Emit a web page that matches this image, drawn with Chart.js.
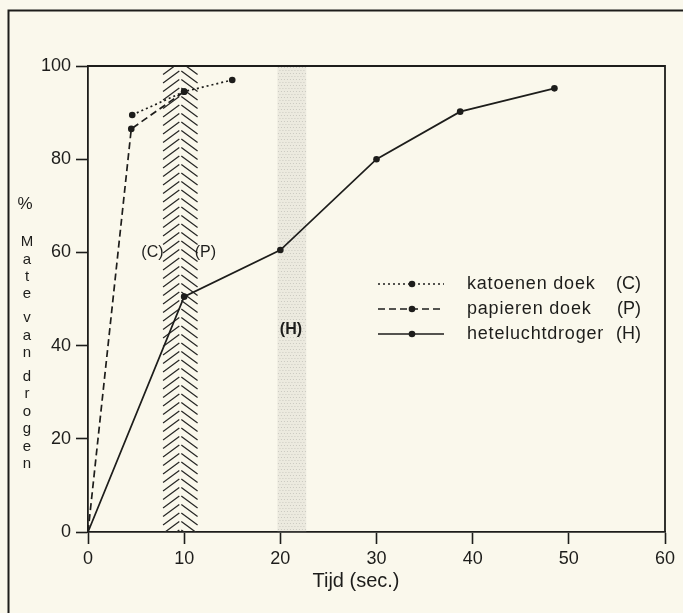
<!DOCTYPE html>
<html>
<head>
<meta charset="utf-8">
<script src="https://cdn.jsdelivr.net/npm/chart.js@4.4.1/dist/chart.umd.min.js"></script>
<style>
  html, body { margin: 0; padding: 0; background: #faf8ec; }
  canvas { display: block; }
</style>
</head>
<body>
<canvas id="chart" width="683" height="613"></canvas>
<script>
// values (x = seconds, y = %)
const cTime = [4.6, 10, 15];
const cDry = [89.5, 94.5, 97];
const pTime = [0, 4.5, 10];
const pDry = [0, 86.5, 94.5];
const hTime = [0, 10, 20, 30, 38.7, 48.5];
const hDry = [0, 50.5, 60.5, 80, 90.2, 95.2];

const seriesNames = ['katoenen doek', 'papieren doek', 'heteluchtdroger'];
const seriesTags = ['(C)', '(P)', '(H)'];

const xTicks = [0, 10, 20, 30, 40, 50, 60];
const yTicks = [0, 20, 40, 60, 80, 100];

// shaded time windows
const hatchBand = [7.7, 11.5];
const stippleBand = [19.7, 22.7];
// band labels: [text, x, y]
const bandLabels = [['(C)', 6.7, 60], ['(P)', 12.2, 60], ['(H)', 21.1, 43.5]];

const yTitleWords = ['Mate', 'van', 'drogen'];

const INK = '#1d1d1b';
const FONT = '"Liberation Sans", Arial, sans-serif';

function pts(xs, ys) {
  return xs.map(function (x, i) { return { x: x, y: ys[i] }; });
}

const extras = {
  id: 'extras',
  beforeDatasetsDraw: function (chart) {
    const ctx = chart.ctx, a = chart.chartArea;
    const xs = chart.scales.x;
    ctx.save();

    // stippled grey band
    const s1 = xs.getPixelForValue(stippleBand[0]), s2 = xs.getPixelForValue(stippleBand[1]);
    ctx.fillStyle = 'rgba(170,170,165,0.18)';
    ctx.fillRect(s1, a.top, s2 - s1, a.bottom - a.top);
    ctx.fillStyle = 'rgba(140,140,135,0.35)';
    for (let y = a.top + 1; y < a.bottom; y += 3) {
      for (let x = s1 + ((y / 3) % 2) * 1.5; x < s2; x += 3) {
        ctx.fillRect(x, y, 1, 1);
      }
    }

    // chevron hatch band
    const h1 = xs.getPixelForValue(hatchBand[0]), h2 = xs.getPixelForValue(hatchBand[1]);
    const hm = (h1 + h2) / 2;
    ctx.beginPath();
    ctx.rect(h1, a.top, h2 - h1, a.bottom - a.top);
    ctx.clip();
    ctx.strokeStyle = '#2a2a28';
    ctx.lineWidth = 1.3;
    for (let y = a.top - 12; y < a.bottom + 2; y += 8.5) {
      ctx.beginPath();
      ctx.moveTo(h1 + 1, y + 12);
      ctx.lineTo(hm - 1, y);
      ctx.moveTo(hm + 1, y);
      ctx.lineTo(h2 - 1, y + 12);
      ctx.stroke();
    }
    ctx.restore();
  },
  afterDraw: function (chart) {
    const ctx = chart.ctx, a = chart.chartArea;
    const xs = chart.scales.x, ys = chart.scales.y;
    ctx.save();
    ctx.strokeStyle = INK;
    ctx.fillStyle = INK;

    // outer frame
    ctx.lineWidth = 2;
    ctx.beginPath();
    ctx.moveTo(8.5, 700);
    ctx.lineTo(8.5, 10.5);
    ctx.lineTo(700, 10.5);
    ctx.stroke();

    // plot box top and right
    ctx.lineWidth = 1.8;
    ctx.beginPath();
    ctx.moveTo(a.left, a.top);
    ctx.lineTo(a.right, a.top);
    ctx.lineTo(a.right, a.bottom);
    ctx.stroke();

    // band labels
    ctx.textAlign = 'center';
    ctx.textBaseline = 'middle';
    bandLabels.forEach(function (b) {
      ctx.font = (b[0] === '(H)' ? 'bold ' : '') + '16px ' + FONT;
      ctx.fillText(b[0], xs.getPixelForValue(b[1]), ys.getPixelForValue(b[2]));
    });

    // y title, stacked letters
    ctx.font = '17px ' + FONT;
    ctx.fillText('%', 25, 204);
    ctx.font = '15px ' + FONT;
    let ly = 242;
    yTitleWords.forEach(function (w) {
      for (let i = 0; i < w.length; i++) {
        ctx.fillText(w[i], 27, ly);
        ly += 17.4;
      }
      ly += 6.5;
    });

    // x title
    ctx.font = '20px ' + FONT;
    ctx.fillText('Tijd (sec.)', 356, 581);

    // legend
    chart.data.datasets.forEach(function (ds, i) {
      const y = 284 + 25 * i;
      ctx.lineWidth = ds.borderWidth;
      ctx.setLineDash(ds.borderDash || []);
      ctx.beginPath();
      ctx.moveTo(378, y);
      ctx.lineTo(444, y);
      ctx.stroke();
      ctx.setLineDash([]);
      ctx.beginPath();
      ctx.arc(412, y, 3.3, 0, Math.PI * 2);
      ctx.fill();
      ctx.font = '18px ' + FONT;
      ctx.letterSpacing = '0.8px';
      ctx.textAlign = 'left';
      ctx.fillText(ds.label, 467, y);
      ctx.letterSpacing = '0px';
      ctx.textAlign = 'right';
      ctx.fillText(seriesTags[i], 641, y);
    });
    ctx.restore();
  }
};

const commonLine = {
  borderColor: INK,
  backgroundColor: INK,
  pointBackgroundColor: INK,
  pointBorderWidth: 0,
  borderWidth: 1.7,
  tension: 0,
  fill: false
};

new Chart(document.getElementById('chart'), {
  type: 'line',
  data: {
    datasets: [
      Object.assign({}, commonLine, {
        label: seriesNames[0],
        data: pts(cTime, cDry),
        borderDash: [2, 3],
        pointRadius: 3.3
      }),
      Object.assign({}, commonLine, {
        label: seriesNames[1],
        data: pts(pTime, pDry),
        borderDash: [7, 4],
        pointRadius: [0, 3.3, 3.3]
      }),
      Object.assign({}, commonLine, {
        label: seriesNames[2],
        data: pts(hTime, hDry),
        pointRadius: [0, 3.3, 3.3, 3.3, 3.3, 3.3]
      })
    ]
  },
  options: {
    responsive: false,
    animation: false,
    devicePixelRatio: 1,
    layout: { padding: { top: 66, right: 18, left: 0, bottom: 0 } },
    plugins: { legend: { display: false }, tooltip: { enabled: false } },
    scales: {
      x: {
        type: 'linear',
        min: 0,
        max: 60,
        afterFit: function (s) { s.height = 81; },
        afterBuildTicks: function (s) { s.ticks = xTicks.map(function (v) { return { value: v }; }); },
        grid: { drawOnChartArea: false, drawTicks: true, tickLength: 12, tickColor: INK, tickWidth: 1.6 },
        border: { display: true, color: INK, width: 1.8 },
        ticks: { color: INK, padding: 4, maxRotation: 0, font: { family: FONT, size: 18 } }
      },
      y: {
        min: 0,
        max: 100,
        afterFit: function (s) { s.width = 88; },
        afterBuildTicks: function (s) { s.ticks = yTicks.map(function (v) { return { value: v }; }); },
        grid: { drawOnChartArea: false, drawTicks: true, tickLength: 12, tickColor: INK, tickWidth: 1.6 },
        border: { display: true, color: INK, width: 1.8 },
        ticks: { color: INK, padding: 5, font: { family: FONT, size: 18 } }
      }
    }
  },
  plugins: [extras]
});
</script>
</body>
</html>
